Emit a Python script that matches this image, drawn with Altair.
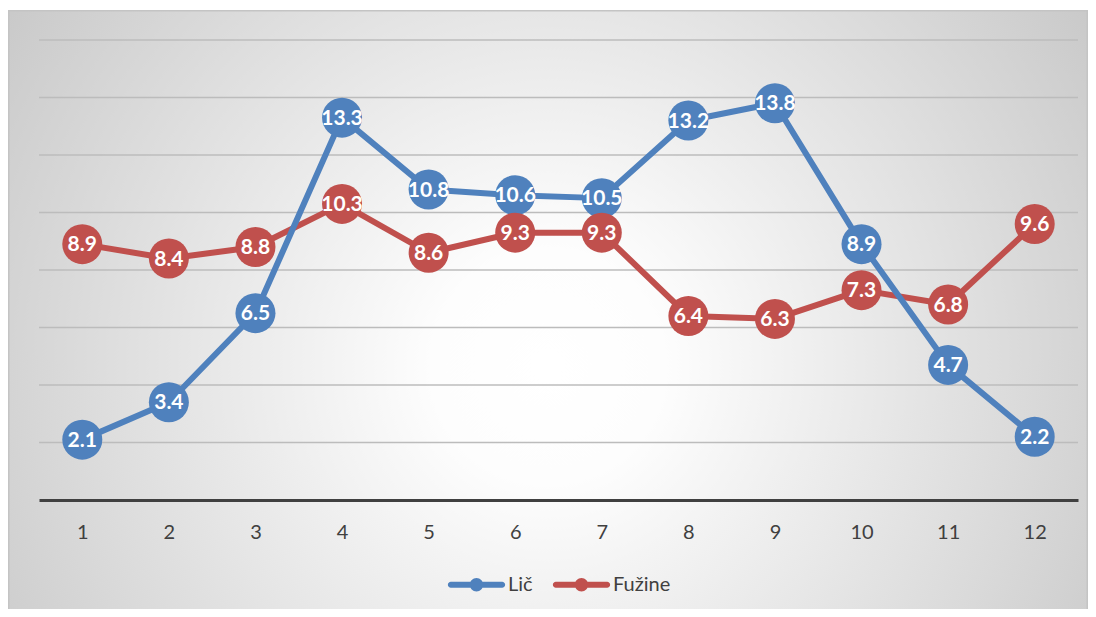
import altair as alt
import pandas as pd

months = list(range(1, 13))
lic = [2.1, 3.4, 6.5, 13.3, 10.8, 10.6, 10.5, 13.2, 13.8, 8.9, 4.7, 2.2]
fuzine = [8.9, 8.4, 8.8, 10.3, 8.6, 9.3, 9.3, 6.4, 6.3, 7.3, 6.8, 9.6]
series_names = ["Lič", "Fužine"]
series_colors = ["#4f81bd", "#c0504d"]
y_grid = [2, 4, 6, 8, 10, 12, 14, 16]

rows = []
for i, m in enumerate(months):
    rows.append({"month": m, "series": "Lič", "value": lic[i], "order": 0})
    rows.append({"month": m, "series": "Fužine", "value": fuzine[i], "order": 1})
df = pd.DataFrame(rows)
grid_df = pd.DataFrame({"value": y_grid})

W, H = 1039, 460
PL, PT = 31, 32
TOTAL_W, TOTAL_H = 1080, 601

gradient = {
    "gradient": "radial",
    "x1": 0.5, "y1": 0.55, "r1": 0,
    "x2": 0.5, "y2": 0.55, "r2": 0.72,
    "stops": [
        {"offset": 0, "color": "#ffffff"},
        {"offset": 0.15, "color": "#fdfdfd"},
        {"offset": 1, "color": "#bdbdbd"},
    ],
}

bg = alt.Chart(pd.DataFrame({"a": [0]})).mark_rect(
    fill=gradient, stroke="#c4c4c4", strokeWidth=1.5
).encode(
    x=alt.value(-PL + 0.75),
    x2=alt.value(TOTAL_W - PL - 0.75),
    y=alt.value(-PT + 2.75),
    y2=alt.value(TOTAL_H - PT + 5),
)

xenc = alt.X(
    "month:O",
    scale=alt.Scale(type="point", padding=0.5),
    axis=alt.Axis(
        title=None, labelAngle=0, ticks=False, grid=False,
        domainColor="#404040", domainWidth=3,
        labelFont="Lato", labelFontSize=20, labelColor="#404040",
        labelPadding=22, zindex=1,
    ),
)
yscale = alt.Scale(domain=[0, 16], nice=False, zero=True)
yenc = alt.Y("value:Q", scale=yscale, axis=None)

grid = alt.Chart(grid_df).mark_rule(color="#bcbcbc", strokeWidth=1.5).encode(
    y=alt.Y("value:Q", scale=yscale, axis=None)
)

color_scale = alt.Scale(domain=series_names, range=series_colors)

legend_path = (
    "M-0.9,-0.105 L0.9,-0.105 A0.105,0.105 0 0,1 0.9,0.105 L-0.9,0.105 "
    "A0.105,0.105 0 0,1 -0.9,-0.105 Z "
    "M0.235,0 A0.235,0.235 0 1,1 -0.235,0 A0.235,0.235 0 1,1 0.235,0 Z"
)
legend = alt.Legend(
    title=None, orient="none", direction="horizontal",
    legendX=409, legendY=516,
    symbolType=legend_path, symbolSize=3249, symbolStrokeWidth=0,
    symbolOpacity=1,
    labelFont="Lato", labelFontSize=20, labelColor="#404040",
    labelOffset=3, columnPadding=19, padding=0, zindex=1,
)
cenc = alt.Color("series:N", scale=color_scale, legend=legend)

base = alt.Chart(df)

line_red = base.transform_filter(alt.datum.series == "Fužine").mark_line(
    strokeWidth=6, strokeJoin="round", strokeCap="round"
).encode(x=xenc, y=yenc, color=cenc)

line_blue = base.transform_filter(alt.datum.series == "Lič").mark_line(
    strokeWidth=6, strokeJoin="round", strokeCap="round"
).encode(x=xenc, y=yenc, color=cenc)

points = base.mark_point(filled=True, size=1600, opacity=1, strokeWidth=0).encode(
    x=xenc, y=yenc, color=cenc, order=alt.Order("order:Q"),
)

labels = base.mark_text(
    font="Lato", fontSize=21, fontWeight="bold", color="white",
    baseline="middle", align="center", dy=1,
).encode(
    x=xenc, y=yenc, text=alt.Text("value:Q", format=".1f"),
    order=alt.Order("order:Q"),
)

chart = alt.layer(bg, grid, line_red, line_blue, points, labels).properties(
    width=W, height=H,
    autosize=alt.AutoSizeParams(type="none"),
    padding={"left": PL, "top": PT, "right": TOTAL_W - PL - W, "bottom": TOTAL_H - PT - H},
    background="white",
).configure_view(stroke=None)

chart.save("out.html", embed_options={"renderer": "svg", "actions": False})
